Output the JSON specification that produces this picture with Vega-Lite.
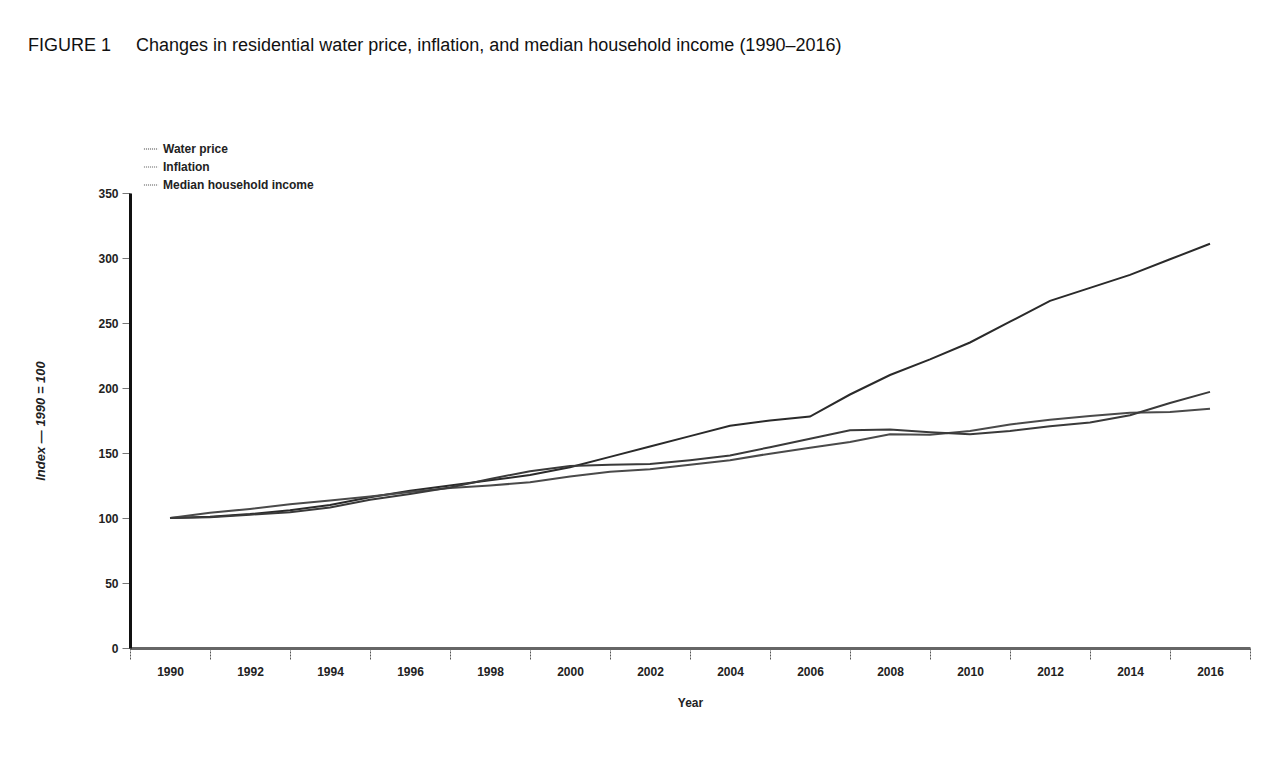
{
  "$schema": "https://vega.github.io/schema/vega-lite/v6.json",
  "width": 1120,
  "height": 455,
  "autosize": {"type": "none"},
  "padding": {"left": 130, "top": 193, "right": 26, "bottom": 113},
  "background": "white",
  "title": {
    "text": "FIGURE 1\u00a0\u00a0\u00a0\u00a0\u00a0Changes in residential water price, inflation, and median household income (1990–2016)",
    "anchor": "start",
    "frame": "group",
    "dx": -102,
    "offset": 86,
    "font": "Liberation Sans",
    "fontSize": 18,
    "fontWeight": "normal",
    "color": "#111"
  },
  "datasets": {
    "series": [
      {"Year": 1990, "Series": "Water price", "Index": 100},
      {"Year": 1991, "Series": "Water price", "Index": 101},
      {"Year": 1992, "Series": "Water price", "Index": 103},
      {"Year": 1993, "Series": "Water price", "Index": 106},
      {"Year": 1994, "Series": "Water price", "Index": 110},
      {"Year": 1995, "Series": "Water price", "Index": 116},
      {"Year": 1996, "Series": "Water price", "Index": 121},
      {"Year": 1997, "Series": "Water price", "Index": 125},
      {"Year": 1998, "Series": "Water price", "Index": 129},
      {"Year": 1999, "Series": "Water price", "Index": 133},
      {"Year": 2000, "Series": "Water price", "Index": 139},
      {"Year": 2001, "Series": "Water price", "Index": 147},
      {"Year": 2002, "Series": "Water price", "Index": 155},
      {"Year": 2003, "Series": "Water price", "Index": 163},
      {"Year": 2004, "Series": "Water price", "Index": 171},
      {"Year": 2005, "Series": "Water price", "Index": 175},
      {"Year": 2006, "Series": "Water price", "Index": 178},
      {"Year": 2007, "Series": "Water price", "Index": 195},
      {"Year": 2008, "Series": "Water price", "Index": 210},
      {"Year": 2009, "Series": "Water price", "Index": 222},
      {"Year": 2010, "Series": "Water price", "Index": 235},
      {"Year": 2011, "Series": "Water price", "Index": 251},
      {"Year": 2012, "Series": "Water price", "Index": 267},
      {"Year": 2013, "Series": "Water price", "Index": 277},
      {"Year": 2014, "Series": "Water price", "Index": 287},
      {"Year": 2015, "Series": "Water price", "Index": 299},
      {"Year": 2016, "Series": "Water price", "Index": 311},
      {"Year": 1990, "Series": "Inflation", "Index": 100},
      {"Year": 1991, "Series": "Inflation", "Index": 104},
      {"Year": 1992, "Series": "Inflation", "Index": 107},
      {"Year": 1993, "Series": "Inflation", "Index": 110.5},
      {"Year": 1994, "Series": "Inflation", "Index": 113.5},
      {"Year": 1995, "Series": "Inflation", "Index": 116.5},
      {"Year": 1996, "Series": "Inflation", "Index": 120},
      {"Year": 1997, "Series": "Inflation", "Index": 123},
      {"Year": 1998, "Series": "Inflation", "Index": 125},
      {"Year": 1999, "Series": "Inflation", "Index": 127.5},
      {"Year": 2000, "Series": "Inflation", "Index": 132},
      {"Year": 2001, "Series": "Inflation", "Index": 135.5},
      {"Year": 2002, "Series": "Inflation", "Index": 137.5},
      {"Year": 2003, "Series": "Inflation", "Index": 141},
      {"Year": 2004, "Series": "Inflation", "Index": 144.5},
      {"Year": 2005, "Series": "Inflation", "Index": 149.5},
      {"Year": 2006, "Series": "Inflation", "Index": 154},
      {"Year": 2007, "Series": "Inflation", "Index": 158.5},
      {"Year": 2008, "Series": "Inflation", "Index": 164.5},
      {"Year": 2009, "Series": "Inflation", "Index": 164},
      {"Year": 2010, "Series": "Inflation", "Index": 167},
      {"Year": 2011, "Series": "Inflation", "Index": 172},
      {"Year": 2012, "Series": "Inflation", "Index": 175.5},
      {"Year": 2013, "Series": "Inflation", "Index": 178.5},
      {"Year": 2014, "Series": "Inflation", "Index": 181},
      {"Year": 2015, "Series": "Inflation", "Index": 181.5},
      {"Year": 2016, "Series": "Inflation", "Index": 184},
      {"Year": 1990, "Series": "Median household income", "Index": 100},
      {"Year": 1991, "Series": "Median household income", "Index": 100.5},
      {"Year": 1992, "Series": "Median household income", "Index": 102.5},
      {"Year": 1993, "Series": "Median household income", "Index": 104.5},
      {"Year": 1994, "Series": "Median household income", "Index": 108},
      {"Year": 1995, "Series": "Median household income", "Index": 114},
      {"Year": 1996, "Series": "Median household income", "Index": 118.5},
      {"Year": 1997, "Series": "Median household income", "Index": 123.5},
      {"Year": 1998, "Series": "Median household income", "Index": 130},
      {"Year": 1999, "Series": "Median household income", "Index": 136},
      {"Year": 2000, "Series": "Median household income", "Index": 140},
      {"Year": 2001, "Series": "Median household income", "Index": 141},
      {"Year": 2002, "Series": "Median household income", "Index": 141.5},
      {"Year": 2003, "Series": "Median household income", "Index": 144.5},
      {"Year": 2004, "Series": "Median household income", "Index": 148},
      {"Year": 2005, "Series": "Median household income", "Index": 154.5},
      {"Year": 2006, "Series": "Median household income", "Index": 161},
      {"Year": 2007, "Series": "Median household income", "Index": 167.5},
      {"Year": 2008, "Series": "Median household income", "Index": 168},
      {"Year": 2009, "Series": "Median household income", "Index": 166},
      {"Year": 2010, "Series": "Median household income", "Index": 164.5},
      {"Year": 2011, "Series": "Median household income", "Index": 167},
      {"Year": 2012, "Series": "Median household income", "Index": 170.5},
      {"Year": 2013, "Series": "Median household income", "Index": 173.5},
      {"Year": 2014, "Series": "Median household income", "Index": 179},
      {"Year": 2015, "Series": "Median household income", "Index": 188.5},
      {"Year": 2016, "Series": "Median household income", "Index": 197}
    ],
    "bands": [
      {"label": "1990"}, {"label": "1992"}, {"label": "1994"}, {"label": "1996"},
      {"label": "1998"}, {"label": "2000"}, {"label": "2002"}, {"label": "2004"},
      {"label": "2006"}, {"label": "2008"}, {"label": "2010"}, {"label": "2012"},
      {"label": "2014"}, {"label": "2016"}
    ]
  },
  "layer": [
    {
      "data": {"name": "series"},
      "mark": {"type": "line", "strokeWidth": 2},
      "encoding": {
        "x": {
          "field": "Year",
          "type": "quantitative",
          "scale": {"domain": [1989, 2017], "nice": false, "zero": false},
          "axis": null
        },
        "y": {
          "field": "Index",
          "type": "quantitative",
          "scale": {"domain": [0, 350], "nice": false},
          "axis": {
            "values": [0, 50, 100, 150, 200, 250, 300, 350],
            "title": "Index — 1990 = 100",
            "titleFont": "Liberation Sans",
            "titleFontStyle": "italic",
            "titleFontWeight": "bold",
            "titleFontSize": 13,
            "titleColor": "#222",
            "titlePadding": 50,
            "labelFont": "Liberation Sans",
            "labelFontWeight": "bold",
            "labelFontSize": 12,
            "labelColor": "#222",
            "tickSize": 8,
            "tickColor": "#777",
            "labelPadding": 4,
            "domainColor": "#111",
            "domainWidth": 3,
            "grid": false
          }
        },
        "color": {
          "field": "Series",
          "type": "nominal",
          "sort": ["Water price", "Inflation", "Median household income"],
          "scale": {
            "domain": ["Water price", "Inflation", "Median household income"],
            "range": ["#2a2a2a", "#4a4a4a", "#3a3a3a"]
          },
          "legend": {
            "orient": "none",
            "legendX": 13,
            "legendY": -52,
            "title": null,
            "symbolType": "stroke",
            "symbolSize": 200,
            "symbolStrokeWidth": 1.5,
            "symbolDash": [1, 1],
            "symbolOpacity": 0.6,
            "labelFont": "Liberation Sans",
            "labelFontWeight": "bold",
            "labelFontSize": 12,
            "labelColor": "#222",
            "rowPadding": 4
          }
        }
      }
    },
    {
      "data": {"name": "bands"},
      "mark": {"type": "bar", "opacity": 0},
      "encoding": {
        "x": {
          "field": "label",
          "type": "ordinal",
          "sort": null,
          "scale": {"type": "band", "paddingInner": 0, "paddingOuter": 0},
          "axis": {
            "orient": "bottom",
            "title": "Year",
            "tickBand": "extent",
            "labelAngle": 0,
            "tickSize": 12,
            "tickDash": [2, 1],
            "tickColor": "#555",
            "labelPadding": 6,
            "labelFont": "Liberation Sans",
            "labelFontWeight": "bold",
            "labelFontSize": 12,
            "labelColor": "#222",
            "titleFont": "Liberation Sans",
            "titleFontSize": 12,
            "titleFontWeight": "bold",
            "titleColor": "#222",
            "titlePadding": 20,
            "domainColor": "#666",
            "domainWidth": 3
          }
        }
      }
    }
  ],
  "resolve": {"scale": {"x": "independent"}, "axis": {"x": "independent"}},
  "config": {"view": {"stroke": null}}
}
